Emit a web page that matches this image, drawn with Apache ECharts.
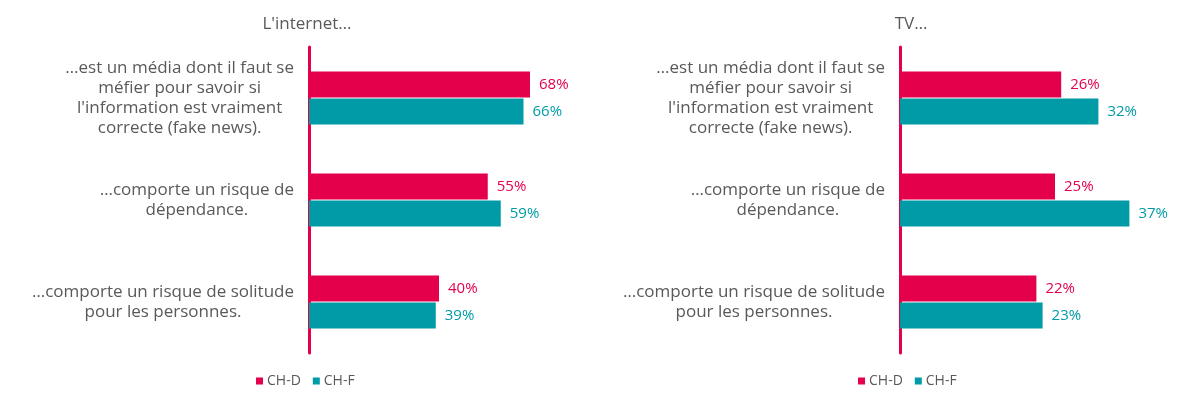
<!DOCTYPE html>
<html>
<head>
<meta charset="utf-8">
<script src="https://cdn.jsdelivr.net/npm/echarts@6/dist/echarts.min.js"></script>
<style>
  html, body { margin: 0; padding: 0; background: #fff; }
  #chart { width: 1200px; height: 398px; }
</style>
</head>
<body>
<div id="chart"></div>
<script>
// données
const categories = [
  ['…est un média dont il faut se', 'méfier pour savoir si', "l'information est vraiment", 'correcte (fake news).'],
  ['…comporte un risque de', 'dépendance.'],
  ['…comporte un risque de solitude', 'pour les personnes.'],
]
const panelTitles = ["L'internet…", 'TV…']
const seriesNames = ['CH-D', 'CH-F']
const internetChD = [68, 55, 40]
const internetChF = [66, 59, 39]
const tvChD = [26, 25, 22]
const tvChF = [32, 37, 23]

const RED = '#e4004b'
const TEAL = '#009ba6'
const GREY = '#595959'
const FONT = 'Open Sans'

const catKeys = categories.map((c, i) => 'c' + i)

const chart = echarts.init(document.getElementById('chart'))

function yAxis(gridIndex) {
  return {
    type: 'category',
    gridIndex,
    inverse: true,
    data: catKeys,
    axisTick: { show: false },
    axisLine: { show: true, lineStyle: { color: RED, width: 3 } },
    axisLabel: {
      margin: 15,
      fontFamily: FONT,
      fontSize: 17,
      color: GREY,
      formatter: (v) => {
        const lines = categories[catKeys.indexOf(v)]
        return lines.map((l) => '{c|' + l + '}').join('\n')
      },
      rich: {
        c: { align: 'center', fontFamily: FONT, fontSize: 17, color: GREY, lineHeight: 20 },
      },
    },
  }
}

function xAxis(gridIndex, max) {
  return {
    type: 'value',
    gridIndex,
    min: 0,
    max,
    show: false,
  }
}

function bar(name, values, color, idx) {
  return {
    name,
    type: 'bar',
    xAxisIndex: idx,
    yAxisIndex: idx,
    data: values,
    barWidth: 26,
    barGap: '4%',
    itemStyle: { color },
    label: {
      show: true,
      position: 'right',
      distance: 9,
      formatter: '{c}%',
      fontFamily: FONT,
      fontSize: 15,
      color,
    },
    emphasis: { disabled: true },
  }
}

function legend(x) {
  return {
    data: seriesNames,
    left: x,
    top: 369,
    itemWidth: 7,
    itemHeight: 7,
    itemGap: 12,
    icon: 'rect',
    textStyle: { fontFamily: FONT, fontSize: 14, color: GREY, padding: [0, 0, 0, -1] },
  }
}

chart.setOption({
  animation: false,
  title: [
    {
      text: panelTitles[0],
      left: 302,
      top: 11,
      textAlign: 'center',
      textStyle: { fontFamily: FONT, fontSize: 17, fontWeight: 'normal', color: GREY },
    },
    {
      text: panelTitles[1],
      left: 906,
      top: 11,
      textAlign: 'center',
      textStyle: { fontFamily: FONT, fontSize: 17, fontWeight: 'normal', color: GREY },
    },
  ],
  legend: [legend(251), legend(853)],
  grid: [
    { left: 309, top: 47, width: 325, height: 306, outerBoundsMode: 'none' },
    { left: 900, top: 47, width: 248, height: 306, outerBoundsMode: 'none' },
  ],
  xAxis: [xAxis(0, 100), xAxis(1, 40)],
  yAxis: [yAxis(0), yAxis(1)],
  series: [
    bar(seriesNames[0], internetChD, RED, 0),
    bar(seriesNames[1], internetChF, TEAL, 0),
    bar(seriesNames[0], tvChD, RED, 1),
    bar(seriesNames[1], tvChF, TEAL, 1),
  ],
})
</script>
</body>
</html>
